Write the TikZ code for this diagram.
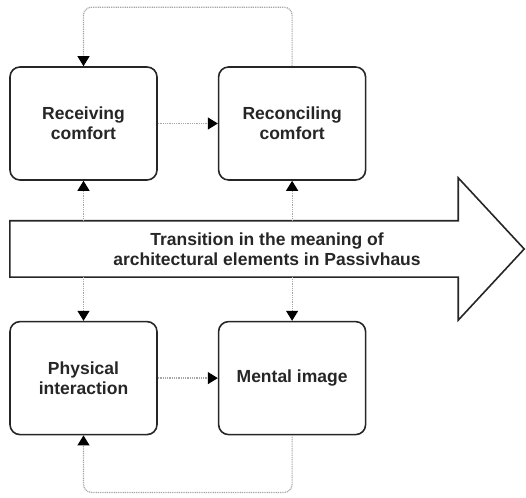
\documentclass[tikz,border=0pt]{standalone}
\usepackage{fontspec}
\setmainfont{Liberation Sans}
\usetikzlibrary{arrows.meta, positioning}

\begin{document}
\begin{tikzpicture}[
  x=1pt, y=1pt,
  node distance=140pt and 60pt,
  box/.style={rectangle, rounded corners=10pt, minimum width=147pt, minimum height=113pt,
    text centered, align=center, draw=black!85, line width=1.6pt, fill=white,
    font=\bfseries\fontsize{17.5}{20}\selectfont, text=black!85},
  band/.style={rectangle, minimum width=514pt, minimum height=56pt, inner sep=0pt,
    align=center, font=\bfseries\fontsize{17.5}{20}\selectfont, text=black!85},
  bandline/.style={draw=black!85, line width=1.6pt, line join=miter},
  link/.style={draw=gray!70, line width=1.2pt, dash pattern=on 1pt off 0.8pt,
    -{Triangle[length=10pt, width=12pt, color=black]}}
]

\useasboundingbox (0,0) rectangle (526,497);

\node (band) [band] at (267,248) {Transition in the meaning of\\architectural elements in Passivhaus};
\node (receive) [box] at (83.5,373.5) {Receiving\\comfort};
\node (reconcile) [box, right=of receive] {Reconciling\\comfort};
\node (physical) [box, below=of receive] {Physical\\interaction};
\node (mental) [box, right=of physical] {Mental image};

\draw [bandline] (band.south west) -- (band.north west) -- ([xshift=-66pt]band.north east)
  -- ++(0,43) -- (band.east) -- ([xshift=-66pt, yshift=-43pt]band.south east)
  -- ([xshift=-66pt]band.south east) -- cycle;

\draw [link] (receive) -- (reconcile);
\draw [link] (physical) -- (mental);
\draw [link] (receive |- band.north) -- (receive);
\draw [link] (reconcile |- band.north) -- (reconcile);
\draw [link] (physical |- band.south) -- (physical);
\draw [link] (mental |- band.south) -- (mental);
\draw [link, rounded corners=8pt] (reconcile.north) -- ++(0,59) -| (receive.north);
\draw [link, rounded corners=8pt] (mental.south) -- ++(0,-57) -| (physical.south);

\end{tikzpicture}
\end{document}
